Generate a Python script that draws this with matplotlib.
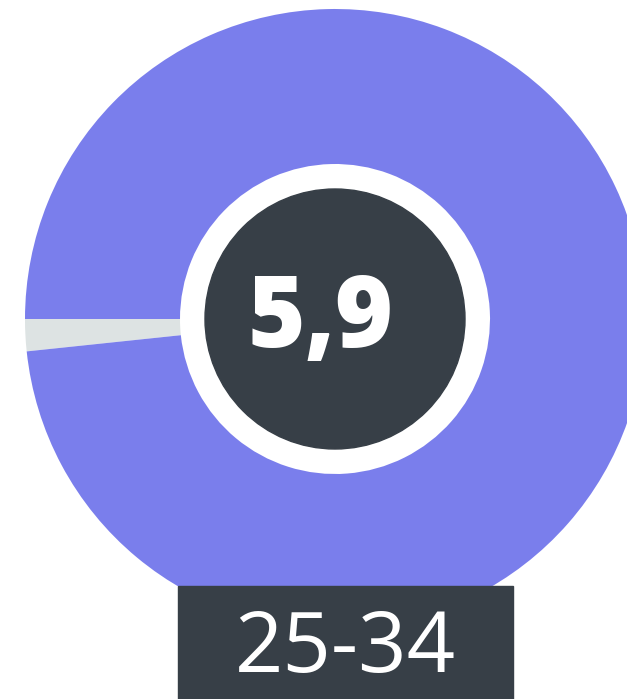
import matplotlib.pyplot as plt
from matplotlib.patches import Circle, Rectangle

# gauge: score out of 6
score = 5.9
max_score = 6.0
score_label = "5,9"
age_group = "25-34"

values = [max_score - score, score]
colors = ["#DDE3E3", "#7A7EEC"]
dark = "#373F47"

fig = plt.figure(figsize=(6.27, 6.99), dpi=100)
ax = fig.add_axes([0, 0, 1, 1])
ax.set_xlim(0, 627)
ax.set_ylim(0, 699)
ax.set_aspect("equal")
ax.axis("off")

cx, cy = 335, 380
ax.pie(values, colors=colors, center=(cx, cy), radius=310, startangle=180,
       counterclock=True, wedgeprops=dict(width=155, edgecolor="none"))
ax.set_xlim(0, 627)
ax.set_ylim(0, 699)

ax.add_patch(Circle((cx, cy), 130, color=dark, zorder=3))
ax.text(321, 352, score_label, color="white", fontsize=71, fontweight="heavy",
        family="Open Sans", ha="center", va="baseline", zorder=4)

ax.add_patch(Rectangle((178, 0), 335, 113, color=dark, zorder=5))
ax.text(345, 27, age_group, color="white", fontsize=61, fontweight="normal",
        family="Open Sans", ha="center", va="baseline", zorder=6)

fig.savefig("out.png", dpi=100)
